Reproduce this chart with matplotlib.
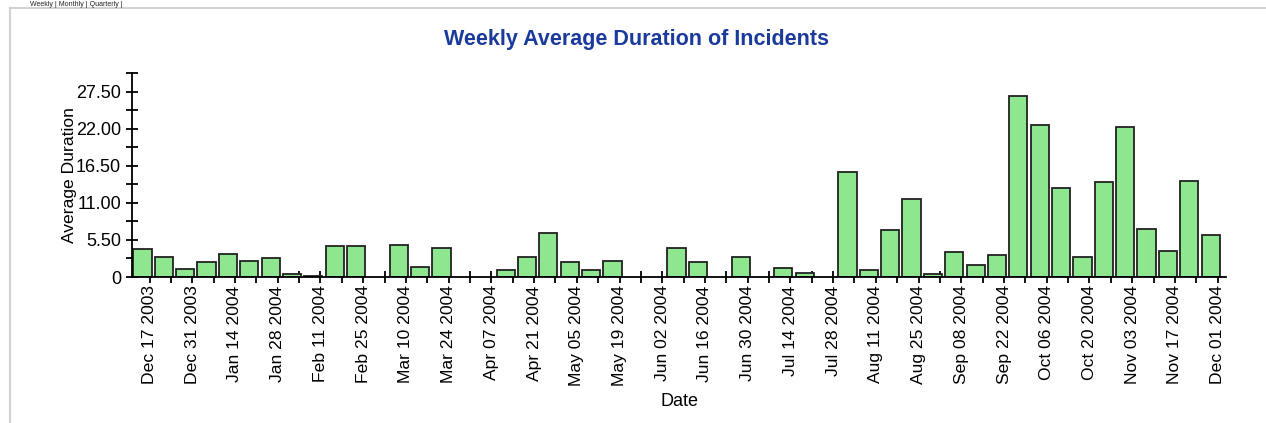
import matplotlib
matplotlib.use("Agg")
import matplotlib.pyplot as plt
from matplotlib.lines import Line2D
from matplotlib.transforms import Bbox
import numpy as np

plt.rcParams['font.family'] = ['Liberation Sans', 'DejaVu Sans']

weeks = ["Dec 17 2003", "Dec 24 2003", "Dec 31 2003", "Jan 07 2004", "Jan 14 2004",
         "Jan 21 2004", "Jan 28 2004", "Feb 04 2004", "Feb 11 2004", "Feb 18 2004",
         "Feb 25 2004", "Mar 03 2004", "Mar 10 2004", "Mar 17 2004", "Mar 24 2004",
         "Mar 31 2004", "Apr 07 2004", "Apr 14 2004", "Apr 21 2004", "Apr 28 2004",
         "May 05 2004", "May 12 2004", "May 19 2004", "May 26 2004", "Jun 02 2004",
         "Jun 09 2004", "Jun 16 2004", "Jun 23 2004", "Jun 30 2004", "Jul 07 2004",
         "Jul 14 2004", "Jul 21 2004", "Jul 28 2004", "Aug 04 2004", "Aug 11 2004",
         "Aug 18 2004", "Aug 25 2004", "Sep 01 2004", "Sep 08 2004", "Sep 15 2004",
         "Sep 22 2004", "Sep 29 2004", "Oct 06 2004", "Oct 13 2004", "Oct 20 2004",
         "Oct 27 2004", "Nov 03 2004", "Nov 10 2004", "Nov 17 2004", "Nov 24 2004",
         "Dec 01 2004"]

avg_duration = [4.12, 2.97, 1.25, 2.18, 3.47, 2.38, 2.78, 0.45, 0.20, 4.56,
                4.56, 0.0, 4.81, 1.49, 4.31, 0.0, 0.0, 1.09, 2.97, 6.50,
                2.18, 1.09, 2.33, 0.0, 0.0, 4.31, 2.18, 0.0, 2.97, 0.0,
                1.29, 0.64, 0.0, 15.56, 1.09, 6.94, 11.50, 0.45, 3.67, 1.74,
                3.22, 26.90, 22.50, 13.24, 3.02, 14.08, 22.30, 7.14, 3.87, 14.28,
                6.30]

y_ticks = [0, 5.5, 11.0, 16.5, 22.0, 27.5]
y_tick_labels = ["0", "5.50", "11.00", "16.50", "22.00", "27.50"]

view_links = "Weekly | Monthly | Quarterly |"

W, H = 1266, 423
fig = plt.figure(figsize=(W / 100, H / 100), dpi=100)
fig.patch.set_facecolor('white')

ax = fig.add_axes([132 / W, 1 - 277 / H, (1226 - 132) / W, (277 - 73) / H])
x = np.arange(len(weeks))
heights = np.array(avg_duration)
mask = heights > 0
ax.bar(x[mask], heights[mask], width=0.85, color='#8ee68e', edgecolor='#222222',
       linewidth=1.3, zorder=2)

ax.set_xlim(-0.49, len(weeks) - 0.28)
ax.set_ylim(0, 30.25)

for s in ['top', 'right']:
    ax.spines[s].set_visible(False)
for s in ['left', 'bottom']:
    ax.spines[s].set_linewidth(1.3)
    ax.spines[s].set_color('black')

off = 0.33
ax.set_xticks(x[::2] + off)
ax.set_xticklabels(weeks[::2], rotation=90, fontsize=12.6)
ax.set_xticks(x[1::2] + off, minor=True)
ax.set_yticks(y_ticks)
ax.set_yticklabels(y_tick_labels, fontsize=13)
ax.set_yticks(np.arange(2.75, 30.3, 5.5), minor=True)
ax.tick_params(axis='both', which='both', direction='inout', length=8, width=1.3, color='black')
ax.tick_params(axis='x', which='major', pad=2)
ax.tick_params(axis='y', which='major', pad=4)

ax.set_ylabel("Average Duration", fontsize=12.6)
ax.set_xlabel("Date", fontsize=13)
ax.yaxis.set_label_coords((77 - 132) / (1226 - 132), 0.5)
ax.xaxis.set_label_coords(0.5, -(393 - 277) / (277 - 73))

# clip the last tick label like the original image edge
clip = Bbox([[0, 0], [1224, H]])
for lbl in ax.get_xticklabels():
    lbl.set_clip_box(clip)
    lbl.set_clip_on(True)

fig.text(637 / W, 1 - 40 / H, "Weekly Average Duration of Incidents", ha='center', va='center',
         fontsize=15.5, fontweight='bold', color='#1a3a9c')

# view links at the very top (shrunk so they fit above the panel border)
fig.text(30 / W, 1 - 6.5 / H, view_links, ha='left', va='baseline', fontsize=5,
         color='#222222')

# panel border
fig.add_artist(Line2D([10 / W, 10 / W], [0, 1 - 8.5 / H], color='#d2d2d2', linewidth=1.5))
fig.add_artist(Line2D([10 / W, 1], [1 - 8.5 / H, 1 - 8.5 / H], color='#d2d2d2', linewidth=1.5))

fig.savefig("out.png", dpi=100, facecolor='white')
